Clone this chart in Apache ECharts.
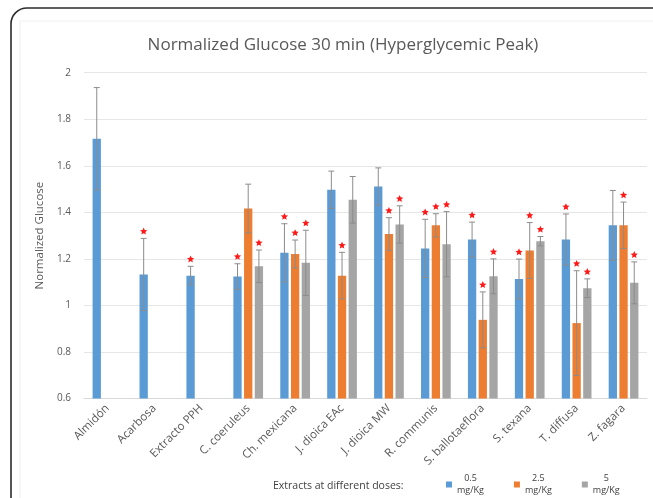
<!DOCTYPE html>
<html>
<head>
<meta charset="utf-8">
<script src="https://cdn.jsdelivr.net/npm/echarts@6/dist/echarts.min.js"></script>
<style>html,body{margin:0;padding:0;background:#fff}#c{width:653px;height:498px}</style>
</head>
<body>
<div id="c"></div>
<script>
const categories = ['Almidón','Acarbosa','Extracto PPH','C. coeruleus','Ch. mexicana','J. dioica EAc','J. dioica MW','R. communis','S. ballotaeflora','S. texana','T. diffusa','Z. fagara'];
const seriesNames = ['0.5 mg/Kg','2.5 mg/Kg','5 mg/Kg'];
const dose05 = [1.716, 1.133, 1.128, 1.124, 1.226, 1.497, 1.511, 1.245, 1.283, 1.114, 1.283, 1.344];
const err05  = [0.22, 0.155, 0.04, 0.055, 0.125, 0.08, 0.08, 0.125, 0.075, 0.085, 0.11, 0.15];
const sig05  = [0,1,1,1,1,0,0,1,1,1,1,0];
const dose25 = [null,null,null,1.416,1.221,1.128,1.307,1.344,0.938,1.236,0.924,1.344];
const err25  = [null,null,null,0.105,0.06,0.1,0.07,0.05,0.12,0.12,0.225,0.1];
const sig25  = [0,0,0,0,1,1,1,1,1,1,1,1];
const dose5  = [null,null,null,1.168,1.183,1.454,1.348,1.263,1.125,1.276,1.074,1.097];
const err5   = [null,null,null,0.07,0.14,0.1,0.08,0.14,0.075,0.02,0.04,0.09];
const sig5   = [0,0,0,1,1,0,1,1,1,1,1,1];
const yTicks = [0.6, 0.8, 1, 1.2, 1.4, 1.6, 1.8, 2];

const colors = ['#5b9bd5','#ed7d31','#a5a5a5'];
const values = [dose05, dose25, dose5];
const errs = [err05, err25, err5];
const sigs = [sig05, sig25, sig5];
const BAR_W = 8.3, PITCH = 10.7;

function errSeries(k){
  const data = [];
  values[k].forEach((v,i)=>{ if(v!=null) data.push([i, v, errs[k][i], sigs[k][i]]); });
  return {
    type:'custom', z:5, silent:true,
    data,
    encode:{x:0,y:1},
    renderItem(params, api){
      const i = api.value(0), v = api.value(1), e = api.value(2), s = api.value(3);
      const off = (k-1)*PITCH;
      const top = api.coord([i, v+e]);
      const bot = api.coord([i, v-e]);
      const x = top[0] + off;
      const cap = 3;
      const st = {stroke:'#8c8c8c', lineWidth:1};
      const children = [
        {type:'line', shape:{x1:x,y1:top[1],x2:x,y2:bot[1]}, style:st},
        {type:'line', shape:{x1:x-cap,y1:top[1],x2:x+cap,y2:top[1]}, style:st},
        {type:'line', shape:{x1:x-cap,y1:bot[1],x2:x+cap,y2:bot[1]}, style:st}
      ];
      if(s){
        const cy = top[1]-7, r1=3.8, r2=1.8, pts=[];
        for(let j=0;j<10;j++){
          const a = -Math.PI/2 + j*Math.PI/5;
          const r = j%2?r2:r1;
          pts.push([x+r*Math.cos(a), cy+r*Math.sin(a)]);
        }
        children.push({type:'polygon', shape:{points:pts}, style:{fill:'#ff1a1a'}});
      }
      return {type:'group', children};
    }
  };
}

const chart = echarts.init(document.getElementById('c'), null, {renderer:'canvas'});
const barSeries = values.map((vals,k)=>({
  name: seriesNames[k], type:'bar', data: vals, barWidth: BAR_W, barGap:'29%',
  itemStyle:{color:colors[k]}
}));

chart.setOption({
  animation:false,
  backgroundColor:'#fff',
  title:{
    text:'Normalized Glucose 30 min (Hyperglycemic Peak)',
    left:338, top:32, textAlign:'center',
    textStyle:{fontFamily:'Open Sans', fontSize:17, fontWeight:'normal', color:'#595959'}
  },
  graphic:[
    {type:'rect', shape:{x:11,y:8,width:700,height:560,r:16}, style:{fill:'none', stroke:'#2b2b2b', lineWidth:1.6}, z:100},
    {type:'rect', shape:{x:20,y:21,width:640,height:540}, style:{fill:'none', stroke:'#f0f0f0', lineWidth:1}, z:0},
    {type:'text', left:273, top:481, style:{text:'Extracts at different doses:', fontFamily:'Open Sans', fontSize:10.5, fill:'#404040'}}
  ],
  legend:{
    data: seriesNames,
    left:441, top:469, itemWidth:6, itemHeight:6, itemGap:30,
    icon:'rect',
    formatter: n => { const p = n.split(' '); return '{a|'+p[0]+'}\n{a|'+p[1]+'}'; },
    textStyle:{fontFamily:'Open Sans', fontSize:9, color:'#404040',
      rich:{a:{align:'center', fontSize:9, lineHeight:12, fontFamily:'Open Sans', color:'#404040'}}}
  },
  grid:{left:84, right:6, top:72.7, bottom:99.5, containLabel:false},
  xAxis:{
    type:'category', data:categories,
    axisTick:{show:false},
    axisLine:{lineStyle:{color:'#d9d9d9'}},
    axisLabel:{rotate:45, interval:0, fontFamily:'Open Sans', fontSize:11.5, color:'#595959', margin:8}
  },
  yAxis:{
    type:'value', min:yTicks[0], max:yTicks[yTicks.length-1], interval:0.2,
    name:'Normalized Glucose', nameLocation:'middle', nameRotate:90, nameGap:36,
    nameTextStyle:{fontFamily:'Open Sans', fontSize:11.5, color:'#595959'},
    axisLine:{show:false}, axisTick:{show:false},
    axisLabel:{fontFamily:'Open Sans', fontSize:10, color:'#595959', margin:13},
    splitLine:{lineStyle:{color:'#e6e6e6'}}
  },
  series:[...barSeries, errSeries(0), errSeries(1), errSeries(2)]
});
</script>
</body>
</html>
